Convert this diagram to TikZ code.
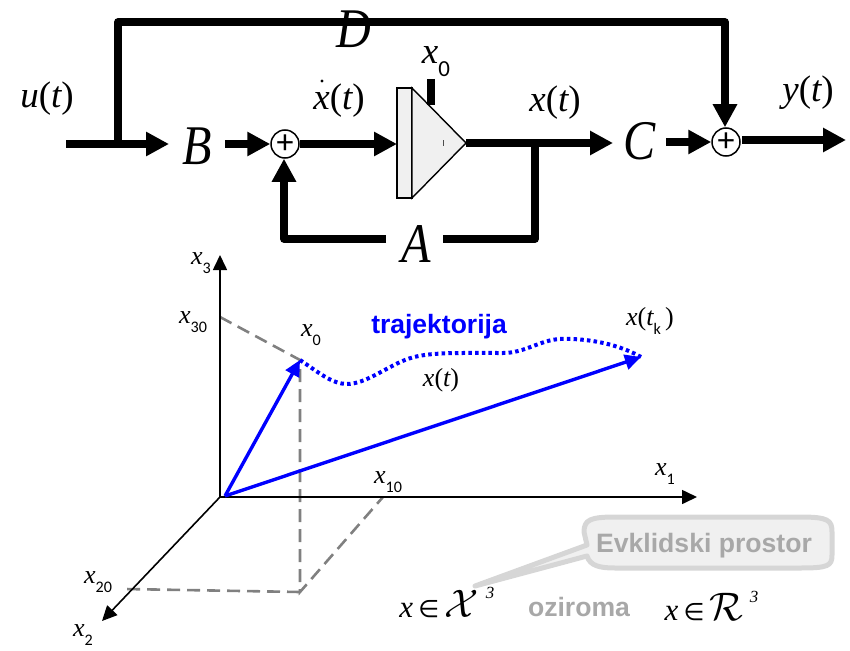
\documentclass[tikz,border=0pt]{standalone}
\usepackage{fontspec}
\setmainfont{Liberation Serif}
\newfontfamily\carl{Carlito}
\newfontfamily\sansb{Liberation Sans Bold}
\usetikzlibrary{arrows.meta,calc}
\tikzset{
  thickline/.style={line width=7.5pt,black,line join=round},
  bigarrow/.style={thickline,-{Triangle[length=23pt,width=23pt]}},
  sumnode/.style={circle,draw=black,line width=1.5pt,fill=white,minimum size=28pt,inner sep=0pt,font=\carl\fontsize{34}{34}\selectfont},
  biglabel/.style={inner sep=0pt,font=\fontsize{56}{56}\selectfont\itshape},
  siglabel/.style={inner sep=0pt,font=\fontsize{37}{37}\selectfont\itshape},
  smalllabel/.style={inner sep=0pt,font=\fontsize{26}{26}\selectfont\itshape},
  axisline/.style={line width=1.6pt,black,-{Triangle[length=15pt,width=14pt]}},
  dashline/.style={line width=2.6pt,black!50,dash pattern=on 13pt off 7pt},
  bluearrow/.style={line width=3.4pt,blue,-{Triangle[length=16pt,width=15pt]}},
  blockpart/.style={draw=black,line width=1.4pt,fill=black!6},
  graytext/.style={inner sep=0pt,text=black!34},
}
\newcommand{\subs}[1]{\raisebox{-0.35em}{\scalebox{0.62}{\carl\upshape #1}}}
\newcommand{\fnc}[2]{#1{\upshape(}#2{\upshape)}}
\newcommand{\narrow}[1]{\scalebox{.86}[1]{#1}}
\newcommand{\elem}{{\fontspec{DejaVu Sans}\fontsize{24}{24}\selectfont ∈}}
\begin{document}
\begin{tikzpicture}[x=1pt,y=-1pt]
\useasboundingbox (0,0) rectangle (850,650);
% block diagram coordinates
\coordinate (ustart) at (66,144);
\coordinate (ubranch) at (118,144);
\coordinate (dtl) at (118,22);
\coordinate (dtr) at (725,22);
\node[biglabel] (B) at (197,146) {\narrow{B}};
\node[biglabel] (C) at (640,141) {\narrow{C}};
\node[biglabel] (D) at (354,29) {\narrow{D}};
\node[biglabel] (A) at (416,244) {\narrow{A}};
\node[sumnode] (s1) at (285,144) {+};
\node[sumnode] (s2) at (726,142) {+};
% integrator
\path[blockpart] (397,88) rectangle (412,198);
\coordinate (rectw) at (397,144);
\coordinate (triapex) at (466,143);
\path[blockpart] (412,88) -- (466,143) -- (412,198) -- cycle;
\draw[black!70,line width=.6pt] (443,140) -- (443,146);
\coordinate (x0top) at (431,79);
\coordinate (x0bot) at (431,105);
\coordinate (branch) at (535,143);
\coordinate (abr) at (535,239);
\coordinate (afl) at (284,239);
\coordinate (aR) at (443,239);
\coordinate (aL) at (386,239);
\coordinate (bin) at (169,144);
\coordinate (cin) at (613,143);
\coordinate (bout) at (225,144);
\coordinate (cout) at (666,142);
\coordinate (yend) at (846,140);
\coordinate (s2out) at (742,140);
% connectors
\draw[bigarrow] (ustart) -- (bin);
\draw[thickline] (ubranch) -- (dtl) -- (dtr) -- (725,110);
\draw[bigarrow] (dtr) -- (s2.north -| dtr);
\draw[bigarrow] (bout) -- (s1.west);
\draw[bigarrow] (s1.east) -- (rectw);
\draw[thickline] (x0top) -- (x0bot);
\draw[bigarrow] (triapex) -- (cin);
\draw[thickline] (branch) -- (abr) -- (aR);
\draw[thickline] (aL) -- (afl) -- (284,175);
\draw[bigarrow] (afl) -- (s1.south -| afl);
\draw[bigarrow] (cout) -- (s2.west);
\draw[bigarrow] (s2out) -- (yend);
% signal labels
\node[siglabel] (ut) at (47,99) {\fnc{u}{t}};
\node[siglabel] (xd) at (339,101) {\fnc{x}{t}};
\fill[black] (322,81) circle (1.6pt);
\node[siglabel] (x0l) at (436,62) {x\subs{0}};
\node[siglabel] (xt) at (555,103) {\fnc{x}{t}};
\node[siglabel] (yt) at (808,93) {\fnc{y}{t}};
% axes
\coordinate (O) at (220,497);
\coordinate (Os) at (225,496);
\coordinate (x3e) at (220,255);
\coordinate (x1e) at (697,497);
\coordinate (x2e) at (102,621);
\coordinate (P30) at (220,317);
\coordinate (P0) at (300,360);
\coordinate (P10) at (383,497);
\coordinate (P20) at (125,589);
\coordinate (Pb) at (300,592);
\coordinate (Pk) at (641,357);
\draw[dashline] (P30) -- (P0) -- (Pb) -- (P10);
\draw[dashline] (Pb) -- (P20);
\draw[axisline] (O) -- (x3e);
\draw[axisline] (O) -- (x1e);
\draw[axisline] (O) -- (x2e);
\draw[line width=4pt,blue,dash pattern=on 3.5pt off 3.2pt] (P0) .. controls (318,372) and (332,384) .. (347,384)
  .. controls (365,384) and (385,368) .. (405,360)
  .. controls (425,352) and (450,353) .. (503,353)
  .. controls (525,353) and (540,340) .. (560,339)
  .. controls (590,338) and (620,345) .. (Pk);
\draw[bluearrow] (Os) -- (P0);
\draw[bluearrow] (Os) -- (Pk);
% axis labels
\node[smalllabel] (l3) at (201,263) {x\subs{3}};
\node[smalllabel] (l30) at (193,322) {x\subs{30}};
\node[smalllabel] (l0) at (311,335) {x\subs{0}};
\node[smalllabel] (l1) at (665,474) {x\subs{1}};
\node[smalllabel] (l10) at (388,482) {x\subs{10}};
\node[smalllabel] (l20) at (98,582) {x\subs{20}};
\node[smalllabel] (l2) at (83,635) {x\subs{2}};
\node[smalllabel] (lt) at (441,380) {\fnc{x}{t}};
\node[smalllabel] (ltk) at (650,321) {\fnc{x}{t\subs{k}\,}};
\node[inner sep=0pt,font=\fontsize{26.5}{26.5}\selectfont\sansb,text=blue] (traj) at (439,327) {trajektorija};
% callout
\path[draw=black!16,line width=5pt,fill=black!6,line join=round]
  (587,545) -- (475,586) -- (587,556)
  .. controls (590,566) and (600,568) .. (615,568)
  -- (800,568) .. controls (828,568) and (832,566) .. (832,555)
  -- (832,532) .. controls (832,520) and (828,517) .. (800,517)
  -- (615,517) .. controls (590,517) and (584,520) .. (584,532) -- cycle;
\node[graytext,font=\fontsize{26.6}{26.6}\selectfont\sansb] (ev) at (704,546) {Evklidski prostor};
\node[graytext,font=\fontsize{26.6}{26.6}\selectfont\sansb] (oz) at (579,607) {oziroma};
% set membership
\node[inner sep=0pt,font=\fontsize{31}{31}\selectfont\itshape] (m1) at (439,604) {x\,\elem\,\scalebox{1.6}{$\mathcal{X}$}};
\node[inner sep=0pt,font=\fontsize{17}{17}\selectfont\itshape] (m1e) at (490,593) {3};
\node[inner sep=0pt,font=\fontsize{31}{31}\selectfont\itshape] (m2) at (704,607) {x\,\elem\,\scalebox{1.6}{$\mathcal{R}$}};
\node[inner sep=0pt,font=\fontsize{17}{17}\selectfont\itshape] (m2e) at (754,597) {3};
\end{tikzpicture}
\end{document}
